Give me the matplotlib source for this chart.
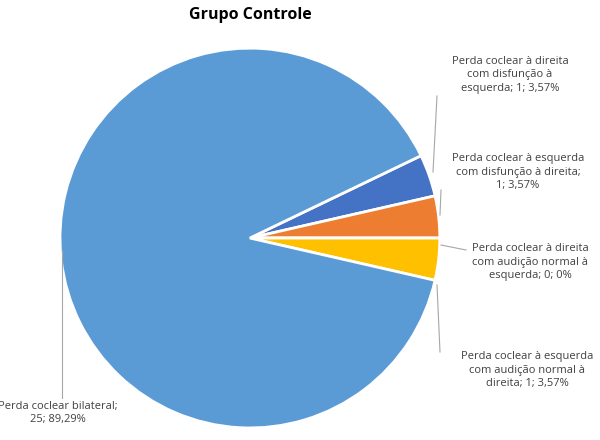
import matplotlib
matplotlib.use("Agg")
import matplotlib.pyplot as plt

categories = ["Perda coclear à direita\ncom disfunção à\nesquerda; 1; 3,57%",
              "Perda coclear à esquerda\ncom disfunção à direita;\n1; 3,57%",
              "Perda coclear à direita\ncom audição normal à\nesquerda; 0; 0%",
              "Perda coclear à esquerda\ncom audição normal à\ndireita; 1; 3,57%",
              "Perda coclear bilateral;\n25; 89,29%"]
values = [1, 1, 0, 1, 25]
colors = ["#4472C4", "#ED7D31", "#A5A5A5", "#FFC000", "#5B9BD5"]

plt.rcParams['font.family'] = ['Open Sans', 'DejaVu Sans']
fig = plt.figure(figsize=(6, 4.4), dpi=100)
ax = fig.add_axes([0.1, 0.027, 0.633, 0.864])
ax.pie(values, colors=colors, startangle=25.7, radius=1.0,
       counterclock=False, wedgeprops=dict(edgecolor="white", linewidth=2))
ax.set_xlim(-1, 1)
ax.set_ylim(-1, 1)
ax.set_aspect("equal")
ax.axis("off")
fig.text(250 / 600, 1 - 15 / 440, "Grupo Controle", ha="center", va="center",
         fontsize=11.5, fontweight="bold", color="#000000")

label_pos = [(510, 75, "center"), (518, 172, "center"), (530, 262, "center"),
             (527, 370, "center"), (58, 413, "center")]
leaders = [[(437, 96), (433, 172)], [(441, 190), (440, 215)],
           [(441, 245), (466, 250)], [(437, 285), (440, 352)],
           [(62, 250), (62, 398)]]
for (x, y, ha), lab in zip(label_pos, categories):
    fig.text(x / 600, 1 - y / 440, lab, ha=ha, va="center", fontsize=8,
             color="#404040", linespacing=1.3)
for pts in leaders:
    fig.add_artist(plt.Line2D([p[0] / 600 for p in pts], [1 - p[1] / 440 for p in pts],
                              color="#A6A6A6", linewidth=0.8, transform=fig.transFigure))
fig.savefig("out.png", dpi=100)
